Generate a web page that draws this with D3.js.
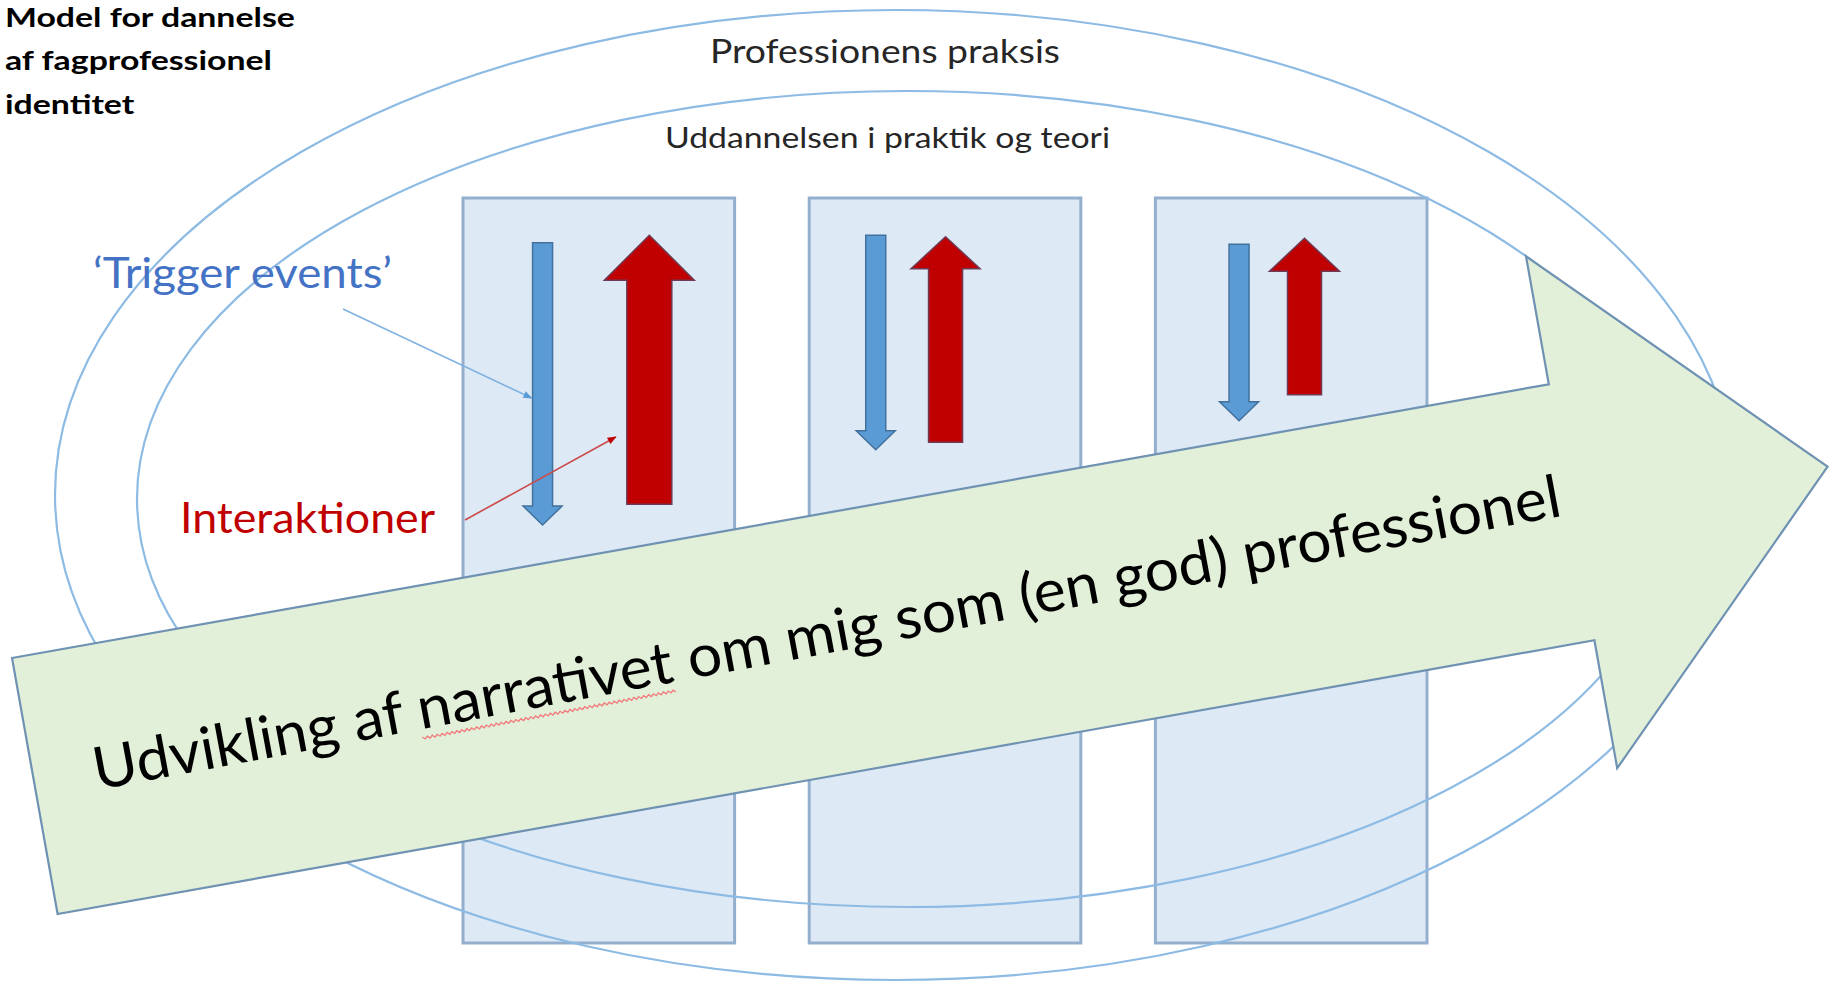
<!DOCTYPE html>
<html><head><meta charset="utf-8">
<script src="https://cdn.jsdelivr.net/npm/d3@7"></script>
<style>html,body{margin:0;padding:0;background:#fff;overflow:hidden}</style>
</head><body>
<svg id="chart" width="1829" height="982"></svg>
<script>
// ---------------- data ----------------
const titleLines = ["Model for dannelse", "af fagprofessionel", "identitet"];
const ringLabels = ["Professionens praksis", "Uddannelsen i praktik og teori"];
const stages = ["Fase 1", "Fase 2", "Fase 3"];
// level units (0 = bottom of the column, 100 = top)
const triggerFrom = [94.0, 95.0, 93.8];      // blue arrows, pointing down
const triggerTo = [56.1, 66.2, 70.1];
const interactionFrom = [58.9, 67.2, 73.6];  // red arrows, pointing up
const interactionTo = [95.0, 94.8, 94.6];
const calloutLabels = ["\u2018Trigger events\u2019", "Interaktioner"];
const narrativeText = "Udvikling af narrativet om mig som (en god) professionel";
const underlinedWord = "narrativet";

// ---------------- layout / style ----------------
const FONT = "Lato, 'Open Sans', sans-serif";
const svg = d3.select("#chart");
const x = d3.scaleBand().domain(stages).range([463, 1427]).paddingInner(0.2155).paddingOuter(0);
const y = d3.scaleLinear().domain([0, 100]).range([943, 198]);
const bw = x.bandwidth();
const blueOff = [0.293, 0.245, 0.308];
const redOff = [0.686, 0.502, 0.549];
const redShaft = [45, 34, 34], redHead = [90, 69, 70], redHeadL = [45, 32, 33];

const rings = [
  {cx: 895, cy: 495, rx: 840, ry: 485, label: ringLabels[0], lx: 710, lw: 350, dy: 53, fs: 33},
  {cx: 907, cy: 499, rx: 770, ry: 408, label: ringLabels[1], lx: 665, lw: 445, dy: 57, fs: 28}
];

const defs = svg.append("defs");
function marker(id, color) {
  defs.append("marker").attr("id", id).attr("viewBox", "0 0 10 10")
    .attr("refX", 9).attr("refY", 5).attr("markerWidth", 10).attr("markerHeight", 9)
    .attr("markerUnits", "userSpaceOnUse").attr("orient", "auto")
    .append("path").attr("d", "M0,1 L10,5 L0,9 Z").attr("fill", color);
}
marker("mBlue", "#5b9bd5");
marker("mRed", "#c00000");

const line = d3.line();

// boxes
svg.append("g").selectAll("rect").data(stages).join("rect")
  .attr("x", d => x(d)).attr("y", y(100))
  .attr("width", bw).attr("height", y(0) - y(100))
  .attr("fill", "#dde9f5").attr("stroke", "#94afcd").attr("stroke-width", 3);

// ellipses
svg.append("g").selectAll("ellipse").data(rings).join("ellipse")
  .attr("cx", d => d.cx).attr("cy", d => d.cy).attr("rx", d => d.rx).attr("ry", d => d.ry)
  .attr("fill", "none").attr("stroke", "#8dbbe4").attr("stroke-width", 2.2);

svg.append("g").selectAll("text").data(rings).join("text")
  .attr("x", d => d.lx).attr("y", d => d.cy - d.ry + d.dy)
  .attr("textLength", d => d.lw).attr("lengthAdjust", "spacingAndGlyphs")
  .attr("font-family", FONT).attr("font-size", d => d.fs).attr("fill", "#262626")
  .text(d => d.label);

// vertical arrows
function vArrow(cx, y0, y1, sw, hw, hl) {
  const dir = Math.sign(y1 - y0), yb = y1 - dir * hl;
  return line([[cx - sw / 2, y0], [cx + sw / 2, y0], [cx + sw / 2, yb], [cx + hw / 2, yb],
    [cx, y1], [cx - hw / 2, yb], [cx - sw / 2, yb]]) + "Z";
}
const ag = svg.append("g");
ag.selectAll("path.trig").data(stages).join("path").attr("class", "trig")
  .attr("d", (d, i) => vArrow(x(d) + bw * blueOff[i], y(triggerFrom[i]), y(triggerTo[i]), 20, 39, 19))
  .attr("fill", "#5b9bd5").attr("stroke", "#41719c").attr("stroke-width", 1.5);
ag.selectAll("path.inter").data(stages).join("path").attr("class", "inter")
  .attr("d", (d, i) => vArrow(x(d) + bw * redOff[i], y(interactionFrom[i]), y(interactionTo[i]), redShaft[i], redHead[i], redHeadL[i]))
  .attr("fill", "#c00000").attr("stroke", "#6e3a55").attr("stroke-width", 1.5);

// callouts
const c0 = {x: 93, y: 288, w: 299, fs: 42, color: "#4472c4"};
const c1 = {x: 180, y: 533, w: 255, fs: 42, color: "#c00000"};
svg.append("text").attr("x", c0.x).attr("y", c0.y).attr("textLength", c0.w).attr("lengthAdjust", "spacingAndGlyphs")
  .attr("font-family", FONT).attr("font-size", c0.fs).attr("fill", c0.color).text(calloutLabels[0]);
svg.append("text").attr("x", c1.x).attr("y", c1.y).attr("textLength", c1.w).attr("lengthAdjust", "spacingAndGlyphs")
  .attr("font-family", FONT).attr("font-size", c1.fs).attr("fill", c1.color).text(calloutLabels[1]);

const blueLeft = x(stages[0]) + bw * blueOff[0] - 10;
const redLeft = x(stages[0]) + bw * redOff[0] - redShaft[0] / 2;
svg.append("path").attr("d", line([[c0.x + c0.w - 49, c0.y + 21], [blueLeft - 1, 398]]))
  .attr("stroke", "#7fb2e0").attr("stroke-width", 1.6).attr("fill", "none").attr("marker-end", "url(#mBlue)");
svg.append("path").attr("d", line([[c1.x + c1.w + 30, c1.y - 13], [redLeft - 11, 437]]))
  .attr("stroke", "#cc4a4a").attr("stroke-width", 1.6).attr("fill", "none").attr("marker-end", "url(#mRed)");

// title
const tg = svg.append("g");
tg.selectAll("text").data(titleLines).join("text")
  .attr("x", 5).attr("y", (d, i) => 27 + i * 43.5)
  .attr("font-family", FONT).attr("font-weight", "bold").attr("font-size", 26).attr("fill", "#000")
  .text(d => d);
const w0 = tg.select("text").node().getComputedTextLength();
const sx = 290 / w0;
tg.selectAll("text").attr("transform", `translate(${5 * (1 - sx)},0) scale(${sx},1)`);

// big arrow
const L = 1561, SW = 260, HW = 520, TIP = 1821;
const big = svg.append("g").attr("transform", "translate(12,658) rotate(-10.1)");
big.append("path")
  .attr("d", line([[0, 0], [L, 0], [L, SW / 2 - HW / 2], [TIP, SW / 2], [L, SW / 2 + HW / 2], [L, SW], [0, SW]]) + "Z")
  .attr("fill", "#e2efd9").attr("stroke", "#6f92b3").attr("stroke-width", 2.2).attr("stroke-linejoin", "miter");

const tgroup = svg.append("g").attr("transform", "translate(97,790) rotate(-10.6)");
const bigText = tgroup.append("text").attr("x", 0).attr("y", 0)
  .attr("textLength", 1492).attr("lengthAdjust", "spacingAndGlyphs")
  .attr("font-family", FONT).attr("font-size", 59).attr("fill", "#000")
  .text(narrativeText);
const idx = narrativeText.indexOf(underlinedWord);
const n = bigText.node();
const sx0 = n.getStartPositionOfChar(idx).x;
const sx1 = n.getEndPositionOfChar(idx + underlinedWord.length - 1).x;
const wave = [];
for (let t = sx0, k = 0; t <= sx1; t += 2.5, k++) wave.push([t, 9 + (k % 2 ? 1.2 : -1.2)]);
tgroup.append("path").attr("d", line(wave)).attr("fill", "none")
  .attr("stroke", "#f27a7a").attr("stroke-width", 1.3);
</script>
</body></html>
